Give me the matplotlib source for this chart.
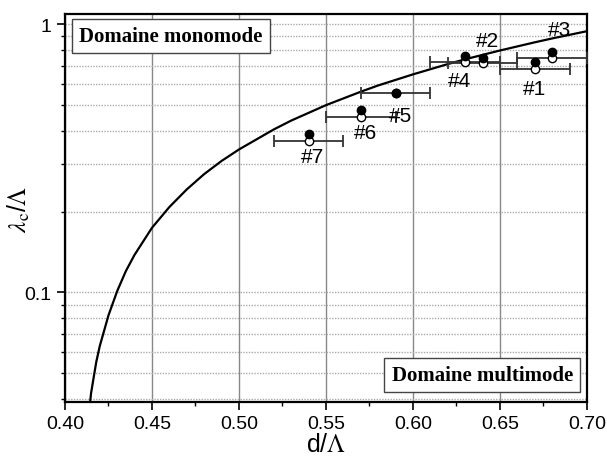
import matplotlib
matplotlib.use("Agg")
import matplotlib.pyplot as plt
from matplotlib.ticker import FixedLocator, NullFormatter

plt.rcParams["font.family"] = ["Liberation Sans", "DejaVu Sans"]
plt.rcParams["mathtext.fontset"] = "stix"

# cut-off curve
curve_x = [0.4135, 0.415, 0.416, 0.418, 0.42, 0.425, 0.43, 0.435, 0.44, 0.45, 0.46, 0.47, 0.48, 0.49,
           0.50, 0.52, 0.53, 0.55, 0.57, 0.58, 0.60, 0.62, 0.63, 0.65, 0.67, 0.68, 0.70]
curve_y = [0.034, 0.042, 0.046, 0.055, 0.063, 0.082, 0.101, 0.120, 0.138, 0.174, 0.208, 0.242, 0.276, 0.309,
           0.341, 0.405, 0.437, 0.499, 0.560, 0.591, 0.650, 0.710, 0.740, 0.798, 0.856, 0.885, 0.942]

# measured fibres
names = ["#1", "#2", "#3", "#4", "#5", "#6", "#7"]
d_lam = [0.67, 0.64, 0.68, 0.63, 0.59, 0.57, 0.54]
d_err = [0.02, 0.02, 0.02, 0.02, 0.02, 0.02, 0.02]
filled_y = [0.72, 0.75, 0.79, 0.76, 0.553, 0.478, 0.389]
open_y = [0.68, 0.715, 0.75, 0.72, 0.553, 0.45, 0.366]
label_pos = [(0.67, 0.575), (0.643, 0.87), (0.684, 0.955), (0.627, 0.615), (0.593, 0.455), (0.573, 0.395), (0.542, 0.32)]

x_ticks = [0.40, 0.45, 0.50, 0.55, 0.60, 0.65, 0.70]
y_major = [0.1, 1]
y_minor = [0.04, 0.05, 0.06, 0.07, 0.08, 0.09, 0.2, 0.3, 0.4, 0.5, 0.6, 0.7, 0.8, 0.9]

fig = plt.figure(figsize=(6.07, 4.6), dpi=100)
ax = fig.add_axes([0.107, 0.124, 0.860, 0.843])

ax.set_yscale("log")
ax.set_xlim(0.40, 0.70)
ax.set_ylim(0.039, 1.09)

ax.plot(curve_x, curve_y, color="black", lw=1.6, zorder=3)

ax.errorbar(d_lam, open_y, xerr=d_err, fmt="none", ecolor="#333333",
            elinewidth=1.3, capsize=4, capthick=1.3, zorder=4)
ax.plot(d_lam, open_y, "o", ms=6, mfc="white", mec="black", mew=1, zorder=5)
ax.plot(d_lam, filled_y, "o", ms=6, color="black", zorder=6)

for n, (lx, ly) in zip(names, label_pos):
    ax.text(lx, ly, n, fontsize=15, ha="center", va="center", zorder=7)

ax.set_xticks(x_ticks)
ax.set_xticklabels(["%.2f" % v for v in x_ticks])
ax.xaxis.set_minor_locator(FixedLocator([0.425, 0.475, 0.525, 0.575, 0.625, 0.675]))
ax.yaxis.set_major_locator(FixedLocator(y_major))
ax.set_yticklabels(["0.1", "1"])
ax.yaxis.set_minor_locator(FixedLocator(y_minor))
ax.yaxis.set_minor_formatter(NullFormatter())

ax.tick_params(axis="both", which="major", labelsize=14, length=6, width=1.2, direction="out")
ax.tick_params(axis="both", which="minor", length=3, width=1, direction="out")

ax.grid(True, axis="x", which="major", color="#888888", lw=1)
ax.grid(True, axis="y", which="both", color="#aaaaaa", lw=1, ls=(0, (1, 1)))
ax.set_axisbelow(True)
for s in ax.spines.values():
    s.set_linewidth(1.6)

ax.set_xlabel(r"d/$\Lambda$", fontsize=18, labelpad=0)
ax.set_ylabel(r"$\lambda$$_{\rm c}$/$\Lambda$", fontsize=18)
ax.yaxis.set_label_coords(-0.064, 0.5)

box = dict(boxstyle="square,pad=0.35", fc="white", ec="#444444", lw=1)
ax.text(0.027, 0.969, "Domaine monomode", transform=ax.transAxes, fontsize=15,
        family="Liberation Serif", weight="bold", va="top", ha="left", bbox=box, zorder=8)
ax.text(0.973, 0.044, "Domaine multimode", transform=ax.transAxes, fontsize=15,
        family="Liberation Serif", weight="bold", va="bottom", ha="right", bbox=box, zorder=8)

fig.savefig("out.png", dpi=100)
